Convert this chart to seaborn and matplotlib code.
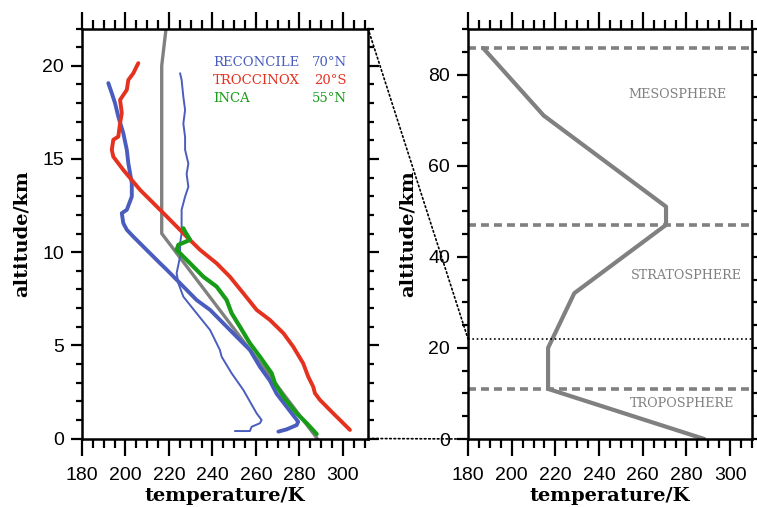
import numpy as np
import pandas as pd
import matplotlib
matplotlib.use("Agg")
import matplotlib.pyplot as plt
from matplotlib.patches import ConnectionPatch
from matplotlib.ticker import MultipleLocator
import seaborn as sns

# ---------------- data ----------------
# RECONCILE 70N, profile 1 (thick)
rec1_T = [270.3, 274.1, 278.7, 279.4, 269.5, 266.4, 261.8, 257.2, 251.1, 245.0, 238.9,
          232.7, 225.1, 219.0, 215.9, 209.7, 203.6, 200.6, 199.0, 198.3, 200.6, 202.9,
          202.9, 201.3, 200.6, 199.0, 196.7, 195.2, 193.7, 192.1]
rec1_z = [0.37, 0.49, 0.72, 0.90, 2.40, 3.10, 3.85, 4.75, 5.46, 6.18, 6.90,
          7.43, 8.33, 9.05, 9.40, 10.12, 10.83, 11.20, 11.55, 12.09, 12.27, 12.98,
          13.70, 14.77, 15.49, 16.38, 17.27, 17.99, 18.53, 19.07]
# RECONCILE 70N, profile 2 (thin)
rec2_T = [250.3, 257.2, 258.0, 261.8, 262.6, 260.3, 254.2, 248.8, 244.2, 243.4, 238.9,
          232.7, 226.6, 224.3, 223.5, 225.1, 225.1, 225.8, 225.8, 225.8, 227.4, 228.9,
          228.1, 228.9, 227.4, 227.4, 226.6, 227.4, 226.6, 225.8, 225.1]
rec2_z = [0.40, 0.40, 0.63, 0.82, 0.99, 1.35, 2.60, 3.50, 4.39, 4.75, 5.82,
          6.72, 7.61, 8.33, 8.87, 9.76, 10.48, 11.01, 11.19, 12.27, 12.98, 13.50,
          14.20, 14.75, 15.49, 16.17, 16.90, 17.63, 18.33, 19.24, 19.60]
# TROCCINOX 20S
tro_T = [303.2, 299.4, 295.5, 289.4, 287.1, 286.3, 284.0, 281.7, 277.1, 272.6, 266.4,
         260.3, 254.2, 248.0, 241.9, 234.3, 228.1, 225.1, 215.9, 206.7, 199.0, 194.4,
         193.7, 194.4, 196.7, 197.5, 198.3, 197.5, 200.6, 201.3, 203.6, 205.1, 205.9]
tro_z = [0.46, 0.90, 1.35, 2.07, 2.43, 2.78, 3.32, 4.03, 4.93, 5.65, 6.36,
         6.90, 7.79, 8.68, 9.40, 10.12, 10.83, 11.19, 12.27, 13.34, 14.41, 15.12,
         15.49, 16.03, 16.20, 16.92, 17.46, 18.17, 18.71, 19.24, 19.60, 19.96, 20.14]
# INCA 55N
inc_T = [287.9, 283.3, 278.7, 272.6, 268.7, 267.2, 261.8, 257.2, 252.6, 248.8, 246.5,
         241.9, 235.8, 229.7, 223.5, 224.3, 229.7, 227.4, 226.6]
inc_z = [0.24, 0.82, 1.35, 2.24, 2.96, 3.50, 4.39, 5.11, 6.00, 6.72, 7.43,
         8.15, 8.68, 9.40, 10.12, 10.39, 10.66, 11.10, 11.28]
# standard atmosphere
std_T = [288.15, 216.65, 216.65, 228.65, 270.65, 270.65, 214.65, 186.87]
std_z = [0.0, 11.0, 20.0, 32.0, 47.0, 51.0, 71.0, 85.85]
layer_z = [11.0, 47.0, 85.85]
layer_names = ["TROPOSPHERE", "STRATOSPHERE", "MESOSPHERE"]
layer_label_T = [278.0, 280.0, 276.0]
layer_label_z = [7.9, 35.8, 75.6]
legend_names = ["RECONCILE", "TROCCINOX", "INCA"]
legend_lat = ["70°N", "20°S", "55°N"]
zoom_top = 22.0

BLUE = "#4a5dbf"
RED = "#e4321f"
GREEN = "#179c17"
GRAY = "#808080"

# ---------------- style ----------------
sns.set_style("ticks", {"axes.edgecolor": "black", "xtick.color": "black",
                        "ytick.color": "black", "text.color": "black",
                        "axes.labelcolor": "black"})
plt.rcParams["font.family"] = ["Liberation Sans", "DejaVu Sans"]
plt.rcParams["axes.linewidth"] = 1.8

fig = plt.figure(figsize=(7.57, 5.07), dpi=100)
W, H = 757, 507
ax1 = fig.add_axes([82 / W, 1 - 438.5 / H, 286 / W, 410 / H])
ax2 = fig.add_axes([468 / W, 1 - 439 / H, 284 / W, 410 / H])

def profile_df(T, z):
    return pd.DataFrame({"T": T, "z": z})

# left panel
sns.lineplot(data=profile_df(std_T[:3] + [218.65], std_z[:3] + [22.0]), x="T", y="z",
             sort=False, estimator=None, color=GRAY, lw=2.4, ax=ax1)
sns.lineplot(data=profile_df(rec2_T, rec2_z), x="T", y="z", sort=False, estimator=None,
             color=BLUE, lw=1.4, ax=ax1)
sns.lineplot(data=profile_df(rec1_T, rec1_z), x="T", y="z", sort=False, estimator=None,
             color=BLUE, lw=2.8, ax=ax1)
sns.lineplot(data=profile_df(tro_T, tro_z), x="T", y="z", sort=False, estimator=None,
             color=RED, lw=2.8, ax=ax1)
sns.lineplot(data=profile_df(inc_T, inc_z), x="T", y="z", sort=False, estimator=None,
             color=GREEN, lw=3.0, ax=ax1)

ax1.set_xlim(180, 311.5)
ax1.set_ylim(0, 22)
ax1.yaxis.set_major_locator(MultipleLocator(5))
ax1.yaxis.set_minor_locator(MultipleLocator(1))

serif = ["DejaVu Serif"]
for i, (nm, lat, c) in enumerate(zip(legend_names, legend_lat, [BLUE, RED, GREEN])):
    zz = 20.17 - i * 0.965
    ax1.text(240.2, zz, nm, color=c, fontsize=9.5, family=serif, ha="left", va="center")
    ax1.text(301.8, zz, lat, color=c, fontsize=9.5, family=serif, ha="right", va="center")

# right panel
sns.lineplot(data=profile_df(std_T, std_z), x="T", y="z", sort=False, estimator=None,
             color=GRAY, lw=3.0, ax=ax2)
for lz in layer_z:
    ax2.axhline(lz, color=GRAY, lw=2.6, linestyle=(0, (2.2, 1.4)))
ax2.axhline(zoom_top, color="black", lw=1.2, linestyle=(0, (1, 1.6)))
for nm, tx, tz in zip(layer_names, layer_label_T, layer_label_z):
    ax2.text(tx, tz, nm, color=GRAY, fontsize=9.2, family=serif, ha="center", va="center")

ax2.set_xlim(180, 310)
ax2.set_ylim(0, 90)
ax2.yaxis.set_major_locator(MultipleLocator(20))
ax2.yaxis.set_minor_locator(MultipleLocator(5))

for ax in (ax1, ax2):
    ax.xaxis.set_major_locator(MultipleLocator(20))
    ax.xaxis.set_minor_locator(MultipleLocator(5))
    ax.set_xticks(range(180, 301, 20))
    ax.tick_params(axis="x", which="major", direction="out", length=12, width=1.6,
                   top=True, bottom=True, labelsize=14, pad=8.5, color="black")
    ax.tick_params(axis="x", which="minor", direction="out", length=6.3, width=1.6,
                   top=True, bottom=True, color="black")
    ax.tick_params(axis="y", which="major", direction="out", length=8, width=1.6,
                   left=True, right=True, labelsize=14, pad=5, color="black")
    ax.tick_params(axis="y", which="minor", direction="out", length=4.3, width=1.6,
                   left=True, right=True, color="black")
    for s in ax.spines.values():
        s.set_visible(True)
        s.set_linewidth(1.8)
        s.set_color("black")
    ax.set_xlabel("temperature/K", family=["DejaVu Serif"], fontweight="bold",
                  fontsize=14, labelpad=2)
    ax.set_ylabel("altitude/km", family=["DejaVu Serif"], fontweight="bold",
                  fontsize=14, labelpad=8)

# dotted connectors between panels
for (xa, ya), (xb, yb) in [((311.5, 22.0), (180, zoom_top)), ((311.5, 0.0), (180, 0.0))]:
    con = ConnectionPatch(xyA=(xa, ya), coordsA=ax1.transData,
                          xyB=(xb, yb), coordsB=ax2.transData,
                          color="black", lw=1.2, linestyle=(0, (1, 1.6)))
    fig.add_artist(con)

fig.savefig("out.png", dpi=100)
